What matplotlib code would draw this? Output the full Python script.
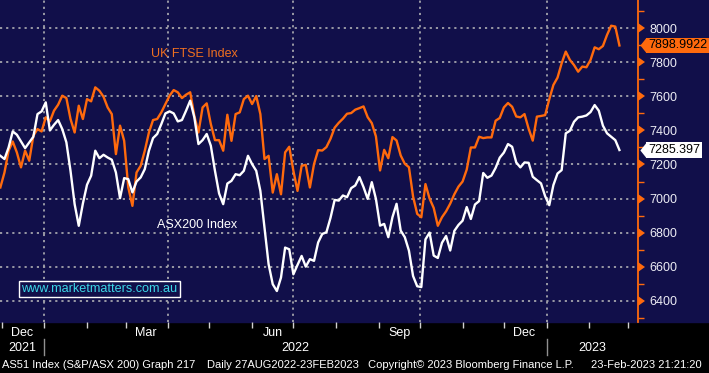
import pandas as pd
import matplotlib
matplotlib.use("Agg")
import matplotlib.pyplot as plt
import matplotlib.transforms as mtrans

plt.rcParams['font.family'] = ['Liberation Sans', 'DejaVu Sans']

# one reading every 3 calendar days, 30-Nov-2021 .. 23-Feb-2023
start_date = "2021-11-30"
step_days = 3

ftse = [7065, 7153, 7281, 7335, 7271, 7183, 7281, 7222, 7369, 7408,
        7394, 7477, 7453, 7516, 7551, 7604, 7590, 7467, 7388, 7545,
        7467, 7584, 7571, 7653, 7633, 7598, 7535, 7496, 7261, 7428,
        7339, 7065, 6957, 7153, 7192, 7281, 7388, 7461, 7467, 7506,
        7555, 7604, 7637, 7624, 7590, 7610, 7624, 7486, 7388, 7535,
        7559, 7437, 7343, 7343, 7281, 7492, 7339, 7496, 7506, 7584,
        7604, 7555, 7602, 7496, 7232, 7251, 7035, 7143, 7025, 7271,
        7304, 7163, 7045, 7192, 7198, 7065, 7202, 7284, 7282, 7302,
        7351, 7416, 7445, 7469, 7498, 7502, 7522, 7531, 7541, 7478,
        7443, 7365, 7165, 7286, 7237, 7361, 7341, 7253, 7204, 7184,
        7012, 6910, 6890, 7085, 7000, 6945, 6840, 6890, 6925, 6970,
        7025, 7070, 7100, 7170, 7300, 7300, 7363, 7355, 7359, 7359,
        7457, 7473, 7535, 7561, 7539, 7482, 7477, 7496, 7410, 7340,
        7481, 7485, 7490, 7583, 7667, 7710, 7794, 7863, 7814, 7784,
        7745, 7775, 7771, 7814, 7888, 7877, 7896, 7961, 8015, 8010,
        7899]

asx = [7251, 7232, 7300, 7394, 7375, 7335, 7296, 7330, 7363, 7496,
       7512, 7565, 7400, 7433, 7461, 7408, 7330, 7163, 6967, 6840,
       6971, 7081, 7134, 7281, 7237, 7257, 7241, 7228, 7153, 7002,
       7120, 7114, 7036, 7100, 7124, 7173, 7281, 7355, 7379, 7437,
       7500, 7512, 7500, 7453, 7461, 7516, 7575, 7477, 7320, 7343,
       7379, 7310, 7163, 7030, 6967, 7088, 7104, 7143, 7137, 7163,
       7251, 7202, 7163, 7045, 6830, 6614, 6497, 6457, 6536, 6712,
       6702, 6555, 6610, 6663, 6600, 6644, 6634, 6742, 6792, 6802,
       6887, 6992, 6988, 7018, 7008, 7061, 7077, 7126, 7067, 6998,
       7096, 6998, 6841, 6851, 6773, 6890, 6969, 6812, 6773, 6694,
       6545, 6485, 6480, 6760, 6800, 6665, 6651, 6740, 6780, 6695,
       6810, 6845, 6870, 6950, 6880, 6965, 6985, 7150, 7122, 7135,
       7180, 7240, 7270, 7320, 7304, 7212, 7183, 7212, 7210, 7128,
       7108, 7089, 7014, 6961, 7079, 7147, 7167, 7383, 7398, 7451,
       7477, 7481, 7488, 7508, 7549, 7516, 7428, 7383, 7363, 7343,
       7285]

ftse_last = "7898.9922"
asx_last = "7285.397"

quarter_labels = ["Dec", "Mar", "Jun", "Sep", "Dec"]
quarter_months = ["2021-12", "2022-03", "2022-06", "2022-09", "2022-12"]
grid_dates = ["2022-01-01", "2022-04-01", "2022-07-01", "2022-10-01", "2023-01-01"]
years = [2021, 2022, 2023]

navy = "#110f4a"
orange = "#ff6a0d"
grid_col = "#a4a4ac"

dates = pd.date_range(start_date, periods=len(ftse), freq=f"{step_days}D")

W, H = 709, 373
fig = plt.figure(figsize=(W / 100, H / 100), dpi=100, facecolor="black")
bottom = 51 / H
ax = fig.add_axes([0, bottom, 638 / W, 1 - bottom])
ax.set_facecolor(navy)
# navy strip behind the right hand scale
fig.patches.append(plt.Rectangle((0, bottom), 1, 1 - bottom, transform=fig.transFigure,
                                 color=navy, zorder=-5))

xmin = pd.Timestamp("2021-11-29 18:00")
xmax = pd.Timestamp("2023-03-08 12:00")
ax.set_xlim(xmin, xmax)
ax.set_ylim(6275, 8166)

# grid
for v in range(6400, 8001, 200):
    ax.axhline(v, color=grid_col, lw=1.3, ls=(0, (1.2, 2.2)), zorder=1)
for d in grid_dates:
    ax.axvline(pd.Timestamp(d), color=grid_col, lw=1.3, ls=(0, (1.2, 2.2)), zorder=1)

ax.plot(dates, ftse, color=orange, lw=1.7, zorder=3)
ax.plot(dates, asx, color="white", lw=1.7, zorder=4)

for s in ["top", "left", "bottom"]:
    ax.spines[s].set_visible(False)
ax.spines["right"].set_color(orange)
ax.spines["right"].set_linewidth(1.3)

# right scale
ax.yaxis.tick_right()
ax.set_yticks(range(6400, 8001, 200))
ax.set_yticks(range(6300, 8101, 100), minor=True)
ax.tick_params(axis="y", which="major", length=0, pad=8, labelsize=9, labelcolor="#ececf4")
ax.tick_params(axis="y", which="minor", length=4, width=1, color=orange)
ytr = ax.get_yaxis_transform()
ax.plot([1] * 9, list(range(6400, 8001, 200)), ls="none", marker=9, ms=6.5,
        color=orange, mew=0, transform=ytr, clip_on=False, zorder=6)

# last value tags
tag_shape = [(-0.4, 0), (0, 0.5), (0, -0.5)]
shift = mtrans.ScaledTranslation(8 / 100, 0, fig.dpi_scale_trans)
for val, txt, fc in [(ftse[-1], ftse_last, orange), (asx[-1], asx_last, "white")]:
    ax.plot([1], [val], ls="none", marker=tag_shape, ms=11, color=fc, mew=0,
            transform=ytr + shift, clip_on=False, zorder=7)
    ax.annotate(txt, xy=(1, val), xycoords=ytr, xytext=(10, 0), textcoords="offset pixels",
                ha="left", va="center", fontsize=9, color="black", annotation_clip=False,
                bbox=dict(boxstyle="square,pad=0.15", fc=fc, ec="none"), zorder=7)

# x axis: month boundary ticks, quarter labels mid-month
ax.set_xticks(pd.date_range("2021-12-01", "2023-03-01", freq="MS"))
ax.set_xticklabels([])
ax.tick_params(axis="x", which="major", length=4, width=1, color="#d0d0d0", direction="out")
xtr = ax.get_xaxis_transform()
for lab, m in zip(quarter_labels, quarter_months):
    mid = pd.Timestamp(m + "-16")
    ax.text(mid, -0.033, lab, transform=xtr, ha="center", va="center", fontsize=9, color="white")
for y in years:
    a = max(pd.Timestamp(f"{y}-01-01"), xmin)
    b = min(pd.Timestamp(f"{y + 1}-01-01"), xmax)
    ax.text(a + (b - a) / 2, -0.082, str(y), transform=xtr, ha="center", va="center",
            fontsize=9, color="white")
    if y > years[0]:
        ax.plot([pd.Timestamp(f"{y}-01-01")] * 2, [-0.053, -0.102], color="#909090", lw=1,
                transform=xtr, clip_on=False)

# series names and watermark
ax.text(pd.Timestamp("2022-04-20"), 7850, "UK FTSE Index", color="#f07020", fontsize=9,
        ha="center", va="center")
ax.text(pd.Timestamp("2022-04-22"), 6845, "ASX200 Index", color="white", fontsize=9,
        ha="center", va="center")
ax.text(pd.Timestamp("2022-02-10"), 6470, "www.marketmatters.com.au", color="#3cd6e6",
        fontsize=9.1, ha="center", va="center",
        bbox=dict(boxstyle="square,pad=0.18", fc=navy, ec="white", lw=1))

# footer
fy = 1 - 365 / H
fig.text(2 / W, fy, "AS51 Index (S&P/ASX 200) Graph 217", color="white", fontsize=8, va="center")
fig.text(207 / W, fy, "Daily 27AUG2022-23FEB2023", color="white", fontsize=8, va="center")
fig.text(368 / W, fy, "Copyright\u00a9 2023 Bloomberg Finance L.P.", color="white", fontsize=8, va="center")
fig.text(591 / W, fy, "23-Feb-2023 21:21:20", color="white", fontsize=8, va="center")

fig.savefig("out.png", dpi=100, facecolor="black")
